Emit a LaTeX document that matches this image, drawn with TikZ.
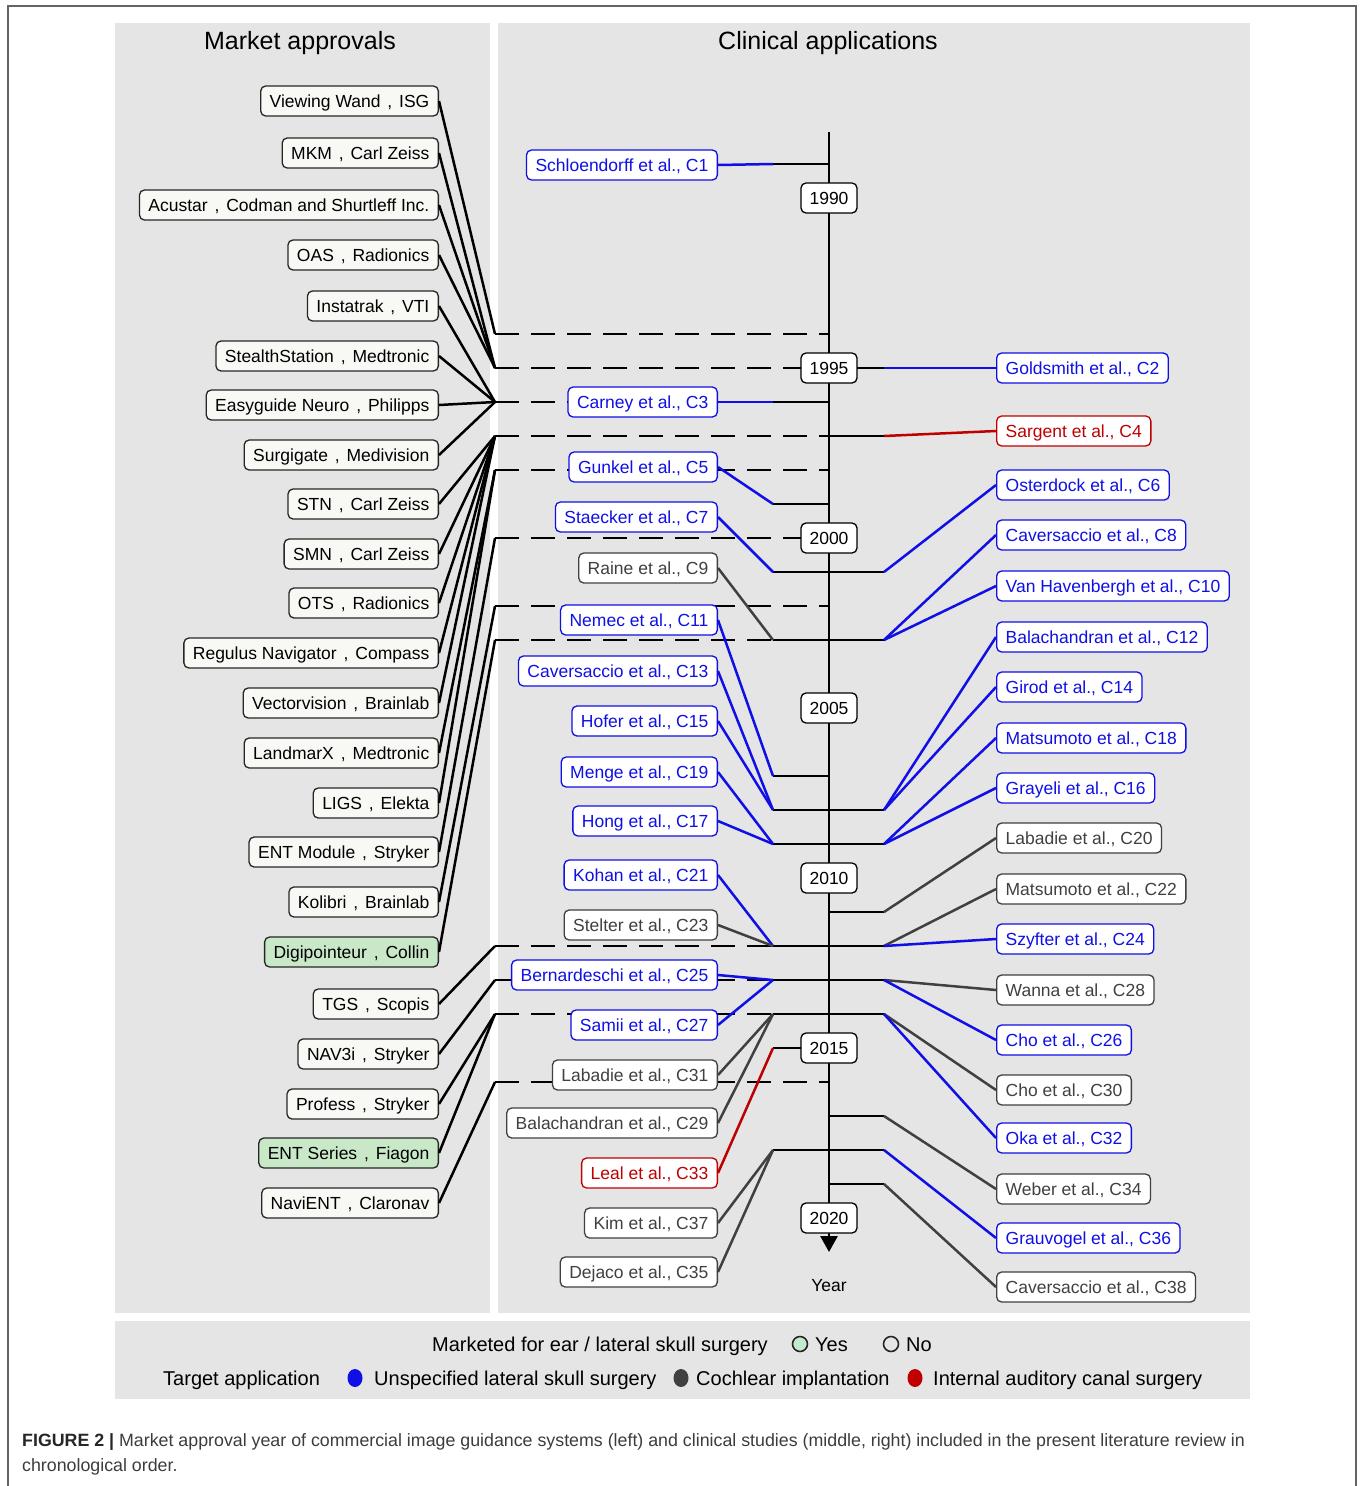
\documentclass[tikz,border=0pt]{standalone}
\usepackage{fontspec}
\setmainfont{Liberation Sans}
\usetikzlibrary{arrows.meta,shapes.geometric}

\definecolor{panelgray}{RGB}{229,229,229}
\definecolor{boxfill}{RGB}{248,249,244}
\definecolor{okgreen}{RGB}{200,232,200}
\definecolor{cblue}{RGB}{15,15,230}
\definecolor{cgray}{RGB}{64,64,64}
\definecolor{cred}{RGB}{190,0,0}
\definecolor{framegray}{RGB}{100,100,100}
\definecolor{capgray}{RGB}{60,60,60}

\NewDocumentCommand{\boxfont}{}{\fontsize{17.5}{20}\selectfont}
\NewDocumentCommand{\headfont}{}{\fontsize{25}{28}\selectfont}
\NewDocumentCommand{\legfont}{}{\fontsize{20}{24}\selectfont}
\NewDocumentCommand{\capfont}{}{\fontsize{17.8}{25}\selectfont}
\NewDocumentCommand{\sysname}{m m}{#1\ \kern2pt,\kern2pt\ #2}

\tikzset{
    appbox/.style={draw=black!85, fill=boxfill, rounded corners=5pt, line width=1.3pt,
        anchor=east, minimum height=30pt, inner xsep=9pt, text height=14pt, text depth=2pt, font=\boxfont},
    studybox/.style={draw=#1, text=#1, fill=white, rounded corners=5pt, line width=1.3pt,
        minimum height=30pt, inner xsep=9pt, text height=14pt, text depth=2pt, font=\boxfont},
    yearbox/.style={draw=black, fill=white, rounded corners=5pt, line width=1.3pt,
        minimum height=30pt, minimum width=56pt, inner xsep=4pt, text height=14pt, text depth=2pt, font=\boxfont},
    link/.style={line width=2.5pt, draw=#1},
    link/.default=black,
    dashlink/.style={line width=2.8pt, dash pattern=on 24pt off 12pt},
    legdot/.style={ellipse, fill=#1, minimum width=15pt, minimum height=18pt, inner sep=0},
    legtext/.style={font=\legfont, inner sep=0},
}

\begin{document}
\begin{tikzpicture}[x=1pt, y=-1pt]
\useasboundingbox (0,0) rectangle (1360,1486);

% panels and frame
\fill[panelgray] (115,23) rectangle (490,1313);
\fill[panelgray] (498,23) rectangle (1250,1313);
\fill[panelgray] (115,1321) rectangle (1250,1399);
\draw[framegray, line width=1.5pt] (8,1486) -- (8,6) -- (1356,6) -- (1356,1486);

\node[font=\headfont] (hmarket) at (300,43) {Market approvals};
\node[font=\headfont] (hclinic) at (828,43) {Clinical applications};

% one row per year
\foreach \yr in {1989,...,2020}{
    \pgfmathsetmacro\yy{198+(\yr-1990)*34}
    \coordinate (fl\yr) at (495,\yy);
    \coordinate (cl\yr) at (773,\yy);
    \coordinate (tl\yr) at (829,\yy);
    \coordinate (cr\yr) at (884,\yy);
}

\foreach \yr in {1994,1995,1996,1997,1998,2000,2002,2003,2012,2013,2014,2016}
    \draw[dashlink] (fl\yr) -- (tl\yr);

\coordinate (ttop) at (829,132);
\coordinate (tend) at (829,1252);
\draw[line width=2.8pt, -{Triangle[width=17pt,length=16pt]}] (ttop) -- (tend);

\foreach \yr in {1989,1996,1999,2001,2003,2007,2008,2009,2012,2013,2014,2015,2018}
    \draw[link] (cl\yr) -- (tl\yr);
\foreach \yr in {1995,1997,2001,2003,2008,2009,2011,2012,2013,2014,2017,2018,2019}
    \draw[link] (tl\yr) -- (cr\yr);

% market approvals
\foreach \prd/\cmp/\yy/\yr/\fc [count=\i from 0] in {
    Viewing Wand/ISG/101/1994/boxfill,
    MKM/Carl Zeiss/153/1995/boxfill,
    Acustar/Codman and Shurtleff Inc./205/1995/boxfill,
    OAS/Radionics/255/1995/boxfill,
    Instatrak/VTI/306/1996/boxfill,
    StealthStation/Medtronic/356/1996/boxfill,
    Easyguide Neuro/Philipps/405/1996/boxfill,
    Surgigate/Medivision/455/1996/boxfill,
    STN/Carl Zeiss/504/1997/boxfill,
    SMN/Carl Zeiss/554/1997/boxfill,
    OTS/Radionics/603/1997/boxfill,
    Regulus Navigator/Compass/653/1997/boxfill,
    Vectorvision/Brainlab/703/1997/boxfill,
    LandmarX/Medtronic/753/1998/boxfill,
    LIGS/Elekta/803/1998/boxfill,
    ENT Module/Stryker/852/2000/boxfill,
    Kolibri/Brainlab/902/2002/boxfill,
    Digipointeur/Collin/952/2003/okgreen,
    TGS/Scopis/1004/2012/boxfill,
    NAV3i/Stryker/1054/2013/boxfill,
    Profess/Stryker/1104/2014/boxfill,
    ENT Series/Fiagon/1153/2014/okgreen,
    NaviENT/Claronav/1203/2016/boxfill}{
    \node[appbox, fill=\fc] (ma\i) at (439,\yy) {\sysname{\prd}{\cmp}};
    \draw[link] (ma\i.east) -- (fl\yr);
}

% studies left of the time axis
\foreach \n/\txt/\yy/\yr/\cc in {
    C1/{Schloendorff et al., C1}/165/1989/cblue,
    C3/{Carney et al., C3}/402/1996/cblue,
    C5/{Gunkel et al., C5}/467/1999/cblue,
    C7/{Staecker et al., C7}/517/2001/cblue,
    C9/{Raine et al., C9}/568/2003/cgray,
    C11/{Nemec et al., C11}/620/2007/cblue,
    C13/{Caversaccio et al., C13}/671/2008/cblue,
    C15/{Hofer et al., C15}/721/2008/cblue,
    C19/{Menge et al., C19}/772/2009/cblue,
    C17/{Hong et al., C17}/821/2009/cblue,
    C21/{Kohan et al., C21}/875/2012/cblue,
    C23/{Stelter et al., C23}/925/2012/cgray,
    C25/{Bernardeschi et al., C25}/975/2013/cblue,
    C27/{Samii et al., C27}/1025/2013/cblue,
    C31/{Labadie et al., C31}/1075/2014/cgray,
    C29/{Balachandran et al., C29}/1123/2014/cgray,
    C33/{Leal et al., C33}/1173/2015/cred,
    C37/{Kim et al., C37}/1223/2018/cgray,
    C35/{Dejaco et al., C35}/1272/2018/cgray}{
    \node[studybox=\cc, anchor=east] (\n) at (718,\yy) {\txt};
    \draw[link=\cc] (\n.east) -- (cl\yr);
}

% studies right of the time axis
\foreach \n/\txt/\yy/\yr/\cc in {
    C2/{Goldsmith et al., C2}/368/1995/cblue,
    C4/{Sargent et al., C4}/431/1997/cred,
    C6/{Osterdock et al., C6}/485/2001/cblue,
    C8/{Caversaccio et al., C8}/535/2003/cblue,
    C10/{Van Havenbergh et al., C10}/586/2003/cblue,
    C12/{Balachandran et al., C12}/637/2008/cblue,
    C14/{Girod et al., C14}/687/2008/cblue,
    C18/{Matsumoto et al., C18}/738/2009/cblue,
    C16/{Grayeli et al., C16}/788/2009/cblue,
    C20/{Labadie et al., C20}/838/2011/cgray,
    C22/{Matsumoto et al., C22}/889/2012/cgray,
    C24/{Szyfter et al., C24}/939/2012/cblue,
    C28/{Wanna et al., C28}/990/2013/cgray,
    C26/{Cho et al., C26}/1040/2013/cblue,
    C30/{Cho et al., C30}/1090/2014/cgray,
    C32/{Oka et al., C32}/1138/2014/cblue,
    C34/{Weber et al., C34}/1189/2017/cgray,
    C36/{Grauvogel et al., C36}/1238/2018/cblue,
    C38/{Caversaccio et al., C38}/1287/2019/cgray}{
    \node[studybox=\cc, anchor=west] (\n) at (996,\yy) {\txt};
    \draw[link=\cc] (cr\yr) -- (\n.west);
}

\foreach \yr in {1990,1995,...,2020}
    \node[yearbox] (yb\yr) at (tl\yr) {\yr};
\node[font=\boxfont] (ylabel) at (829,1286) {Year};

% legend
\node[legtext, anchor=base east] (lgmarket) at (768,1351) {Marketed for ear / lateral skull surgery};
\node[circle, draw=black!85, fill=okgreen, line width=1.6pt, minimum size=15pt, inner sep=0] (lgyes) at (800,1344) {};
\node[legtext, anchor=base west] (lgyestxt) at (815,1351) {Yes};
\node[circle, draw=black!85, line width=1.6pt, minimum size=15pt, inner sep=0] (lgno) at (891,1344) {};
\node[legtext, anchor=base west] (lgnotxt) at (906,1351) {No};

\node[legtext, anchor=base west] (lgtarget) at (163,1385) {Target application};
\node[legdot=cblue] (lgblue) at (355,1378) {};
\node[legtext, anchor=base west] (lgbluetxt) at (374,1385) {Unspecified lateral skull surgery};
\node[legdot=cgray] (lggray) at (681,1378) {};
\node[legtext, anchor=base west] (lggraytxt) at (696,1385) {Cochlear implantation};
\node[legdot=cred] (lgred) at (915,1378) {};
\node[legtext, anchor=base west] (lgredtxt) at (933,1385) {Internal auditory canal surgery};

% caption
\node[font=\capfont, text=capgray, anchor=base west, align=left, inner sep=0] (caption) at (22,1471)
    {\textbf{\color{black!85}FIGURE 2 |} Market approval year of commercial image guidance systems (left) and clinical studies (middle, right) included in the present literature review in\\chronological order.};
\end{tikzpicture}
\end{document}
